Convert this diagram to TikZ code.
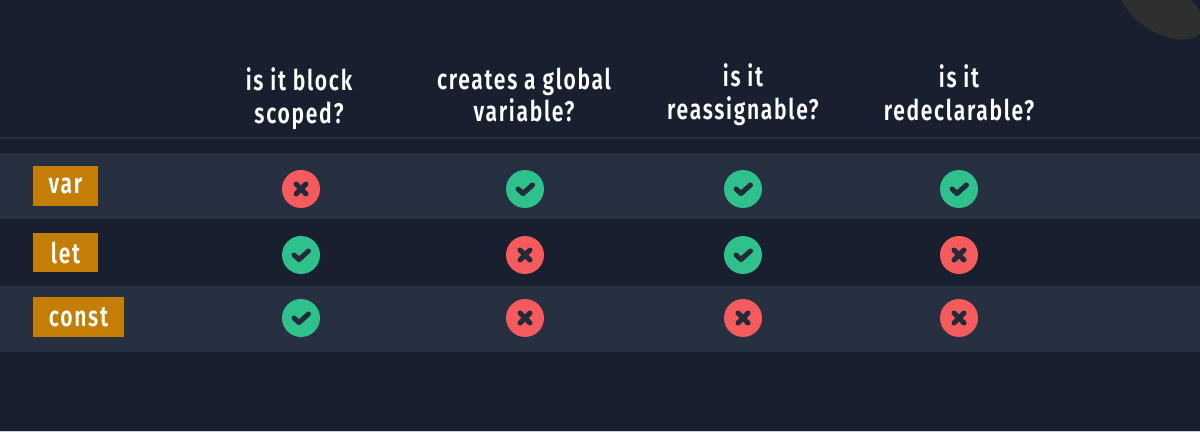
\documentclass[tikz,border=0pt]{standalone}
\usepackage{fontspec}
\setmainfont[FakeStretch=0.74,LetterSpace=6]{Fira Sans SemiBold}
\usetikzlibrary{positioning}
\definecolor{pagebg}{HTML}{181F2E}
\definecolor{rowbg}{HTML}{273040}
\definecolor{headrule}{HTML}{262D3C}
\definecolor{tagbg}{HTML}{C47E05}
\definecolor{yescol}{HTML}{2FC18C}
\definecolor{nocol}{HTML}{F55A5D}
\definecolor{markcol}{HTML}{232B3B}
\definecolor{blobcol}{HTML}{2E2F2F}

\begin{document}
\begin{tikzpicture}[
    x=0.02cm, y=-0.02cm,
    head/.style={text=white, align=center, font=\fontsize{16.2}{18.7}\selectfont, inner sep=0},
    tag/.style={fill=tagbg, text=white, minimum height=0.8cm, inner sep=0,
                font=\fontsize{16.2}{18}\selectfont},
    yes/.style={circle, fill=yescol, minimum size=0.76cm, inner sep=0,
                path picture={\draw[markcol, line width=0.1cm, line cap=round, line join=round]
                  ([shift={(-7,0)}]path picture bounding box.center) -- ++(5,4.5) -- ++(9.5,-8.5);}},
    no/.style={circle, fill=nocol, minimum size=0.76cm, inner sep=0,
               path picture={\draw[markcol, line width=0.1cm, line cap=round]
                 ([shift={(-5,-5)}]path picture bounding box.center) -- ++(10,10)
                 ([shift={(5,-5)}]path picture bounding box.center) -- ++(-10,10);}}
]
\clip (0,0) rectangle (1200,432);
\fill[pagebg] (0,0) rectangle (1200,432);
\fill[blobcol, rotate around={-32:(1161,7)}] (1161,7) ellipse (47 and 25);
\fill[white!82!black] (0,431) rectangle (1200,432);

% header
\draw[headrule, line width=0.04cm] (0,138) -- (1200,138);
\node[head] (block) at (299,99) {is it block\\scoped?};
\node[head] (global) at (524,95) {creates a global\\variable?};
\node[head] (reassign) at (743,95) {is it\\reassignable?};
\node[head] (redeclare) at (959,93) {is it\\redeclarable?};

% rows
\fill[rowbg] (0,153) rectangle (1200,219);
\fill[rowbg] (0,286) rectangle (1200,352);

\node[tag, minimum width=1.3cm] (var) at (65.5,186) {var};
\node[tag, minimum width=1.3cm] (let) at (65.5,252.5) {let};
\node[tag, minimum width=1.82cm] (const) at (78.5,317) {const};

\foreach \name/\ypos/\marka/\markb/\markc/\markd in {
    var/189/no/yes/yes/yes,
    let/255/yes/no/yes/no,
    const/318/yes/no/no/no} {
  \node[\marka] (\name-block) at (301,\ypos) {};
  \node[\markb] (\name-global) at (525,\ypos) {};
  \node[\markc] (\name-reassign) at (743,\ypos) {};
  \node[\markd] (\name-redeclare) at (959,\ypos) {};
}
\end{tikzpicture}
\end{document}
